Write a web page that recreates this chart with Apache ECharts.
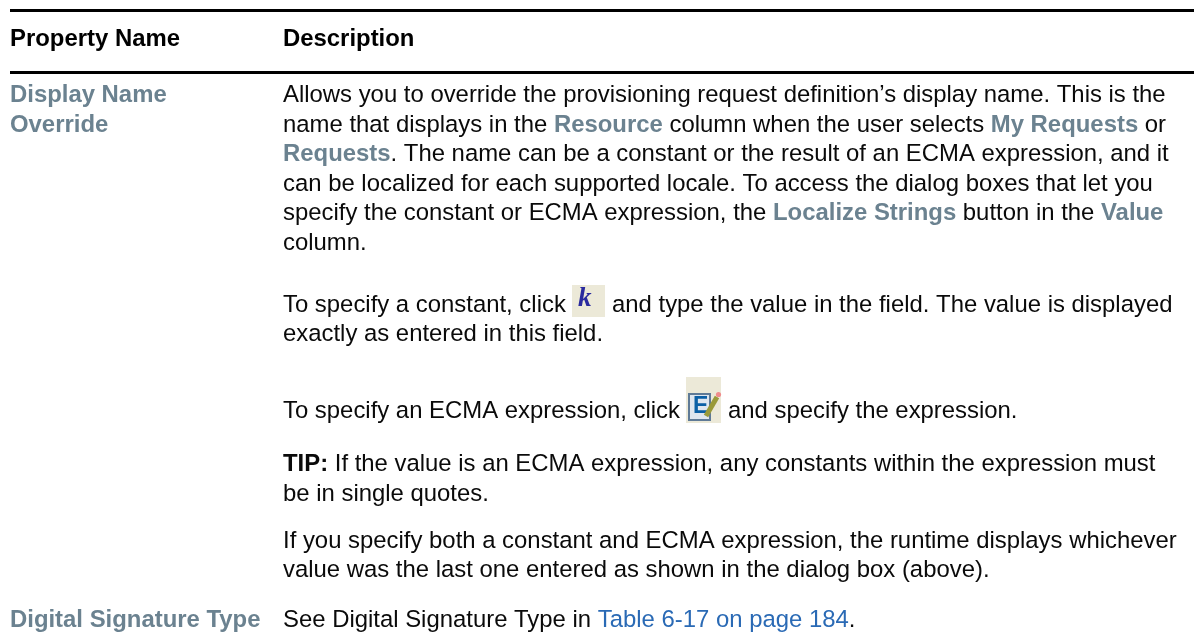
<!DOCTYPE html>
<html><head><meta charset="utf-8">
<style>html,body{margin:0;padding:0;background:#fff}#c{width:1194px;height:643px}</style>
<script src="https://cdn.jsdelivr.net/npm/echarts@6/dist/echarts.min.js"></script>
</head><body><div id="c"></div>
<script>
const headers = ['Property Name', 'Description'];
const nameRows = [['Display Name', 95.4], ['Override', 125], ['Digital Signature Type', 620]];
// segments: n normal, b bold grey link, t bold black, l blue link
const descLines = [
  [95.4, [['n', 'Allows you to override the provisioning request definition’s display name. This is the']]],
  [125, [['n', 'name that displays in the '], ['b', 'Resource'], ['n', ' column when the user selects '], ['b', 'My Requests'], ['n', ' or']]],
  [154.6, [['b', 'Requests'], ['n', '. The name can be a constant or the result of an ECMA expression, and it']]],
  [184.2, [['n', 'can be localized for each supported locale. To access the dialog boxes that let you']]],
  [213.8, [['n', 'specify the constant or ECMA expression, the '], ['b', 'Localize Strings'], ['n', ' button in the '], ['b', 'Value']]],
  [243.4, [['n', 'column.']]],
  [305, [['n', 'To specify a constant, click ']]],
  [305, [['n', 'and type the value in the field. The value is displayed']], 612],
  [334.6, [['n', 'exactly as entered in this field.']]],
  [411, [['n', 'To specify an ECMA expression, click ']]],
  [411, [['n', 'and specify the expression.']], 728],
  [464.4, [['t', 'TIP:'], ['n', ' If the value is an ECMA expression, any constants within the expression must']]],
  [494, [['n', 'be in single quotes.']]],
  [541, [['n', 'If you specify both a constant and ECMA expression, the runtime displays whichever']]],
  [570.6, [['n', 'value was the last one entered as shown in the dialog box (above).']]],
  [620, [['n', 'See Digital Signature Type in '], ['l', 'Table 6-17 on page 184'], ['n', '.']]]
];
const ruleYs = [[9, 3], [71, 3]];

const FF = '"Liberation Sans", Arial, sans-serif';
const FS = 23.9;
const X0 = 10, X1 = 283;
const rich = {
  n: {font: `${FS}px ${FF}`, fill: '#0a0a0a'},
  b: {font: `bold ${FS}px ${FF}`, fill: '#6b8290'},
  t: {font: `bold ${FS}px ${FF}`, fill: '#0a0a0a'},
  l: {font: `${FS}px ${FF}`, fill: '#2a6ab5'}
};
const g = [];
g.push({type:'rect', shape:{x:0,y:0,width:1194,height:643}, style:{fill:'#fff'}, silent:true});
ruleYs.forEach(([y,h]) => g.push({type:'rect', shape:{x:10,y:y,width:1184,height:h}, style:{fill:'#000'}}));
g.push({type:'text', x:X0, y:39.4, style:{text:headers[0], font:`bold ${FS}px ${FF}`, fill:'#000', verticalAlign:'middle'}});
g.push({type:'text', x:X1, y:39.4, style:{text:headers[1], font:`bold ${FS}px ${FF}`, fill:'#000', verticalAlign:'middle'}});
nameRows.forEach(([t,y]) => g.push({type:'text', x:X0, y:y, style:{text:t, font:`bold ${FS}px ${FF}`, fill:'#6b8290', verticalAlign:'middle'}}));
descLines.forEach(([y,segs,x]) => {
  const text = segs.map(([k,t]) => `{${k}|${t}}`).join('');
  g.push({type:'text', x:x||X1, y:y, style:{text, rich, verticalAlign:'middle'}});
});
// inline toolbar icons
g.push({type:'rect', shape:{x:572,y:285,width:33,height:32}, style:{fill:'#ece9d8'}});
g.push({type:'text', x:578, y:299, style:{text:'k', font:`italic bold 27px "Liberation Serif", serif`, fill:'#2a2a9e', verticalAlign:'middle'}});
g.push({type:'rect', shape:{x:686,y:377,width:35,height:46}, style:{fill:'#ece9d8'}});
g.push({type:'rect', shape:{x:689,y:394,width:21,height:26}, style:{fill:'#dfe6ef', stroke:'#5f7a96', lineWidth:2}});
g.push({type:'text', x:693, y:407, style:{text:'E', font:`bold 23px "Liberation Sans", sans-serif`, fill:'#0b5fa5', verticalAlign:'middle'}});
g.push({type:'line', shape:{x1:706,y1:416,x2:717,y2:397}, style:{stroke:'#9a9a3a', lineWidth:5}});
g.push({type:'circle', shape:{cx:718.5,cy:394.5,r:2.6}, style:{fill:'#f08c8c'}});
const chart = echarts.init(document.getElementById('c'), null, {renderer:'canvas'});
chart.setOption({animation:false, graphic:{elements:g}});
</script></body></html>
